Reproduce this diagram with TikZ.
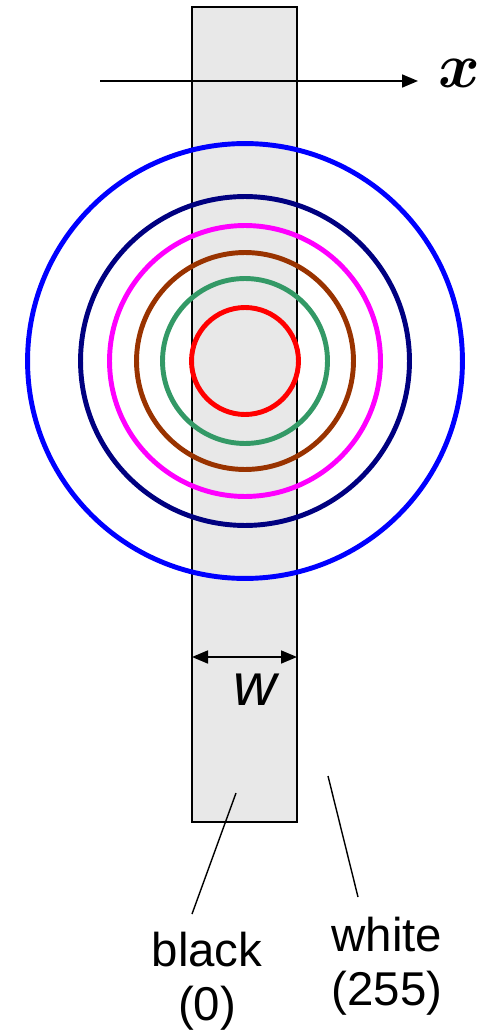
\documentclass[tikz,border=0pt]{standalone}
\usepackage{fontspec}
\setmainfont{Liberation Sans}
\usepackage{amsmath,bm}
\usetikzlibrary{arrows.meta,positioning}

\definecolor{ringblue}{RGB}{0,0,255}
\definecolor{ringnavy}{RGB}{0,0,128}
\definecolor{ringmagenta}{RGB}{255,0,255}
\definecolor{ringbrown}{RGB}{153,51,0}
\definecolor{ringgreen}{RGB}{51,153,102}
\definecolor{ringred}{RGB}{255,0,0}
\definecolor{stripgray}{RGB}{232,232,232}

\begin{document}
\begin{tikzpicture}[x=0.02cm, y=-0.02cm,
  strip/.style={rectangle, draw=black, fill=stripgray, line width=1.2pt,
    minimum width=2.1cm, minimum height=16.3cm, inner sep=0pt},
  ring/.style={circle, draw=#1, line width=2.8pt, inner sep=0pt},
  arrow/.style={-{Triangle[length=3.2mm, width=2.6mm]}, line width=1pt},
  dim/.style={{Triangle[length=3.2mm, width=2.6mm]}-{Triangle[length=3.2mm, width=2.6mm]}, line width=1pt},
  lbl/.style={font=\fontsize{27}{31}\selectfont, align=center, inner sep=0pt},
  leader/.style={line width=0.8pt},
]
\useasboundingbox (0,0) rectangle (481,1033);

\node[strip] (bar) at (244.5,414.5) {};

% Axis
\coordinate (xstart) at (100,81);
\coordinate (xend) at (418,81);
\draw[arrow] (xstart) -- (xend);
\node[font=\Huge, scale=1.45, inner sep=0pt, right=0.4cm of xend, yshift=0.1cm] (xlabel) {$\bm{x}$};

% Rings
\node[ring=ringblue,    minimum size=8.7cm]  (r6) at (245,361) {};
\node[ring=ringnavy,    minimum size=6.58cm] (r5) at (245,361) {};
\node[ring=ringmagenta, minimum size=5.42cm] (r4) at (245,361) {};
\node[ring=ringbrown,   minimum size=4.34cm] (r3) at (245,361) {};
\node[ring=ringgreen,   minimum size=3.3cm]  (r2) at (245,361) {};
\node[ring=ringred,     minimum size=2.14cm] (r1) at (245,361) {};

% Width
\coordinate (wleft) at (192,657);
\coordinate (wright) at (297,657);
\draw[dim] (wleft) -- (wright);
\node[font=\fontsize{34}{40}\selectfont\itshape] (wlabel) at (255,690) {w};

% Labels
\node[lbl] (black) at (207,981) {black\\(0)};
\node[lbl] (white) at (387,966) {white\\(255)};
\coordinate (inbar) at (236,793);
\coordinate (outbar) at (328,776);
\draw[leader] (inbar) -- (192,914);
\draw[leader] (outbar) -- (358,897);

\end{tikzpicture}
\end{document}
